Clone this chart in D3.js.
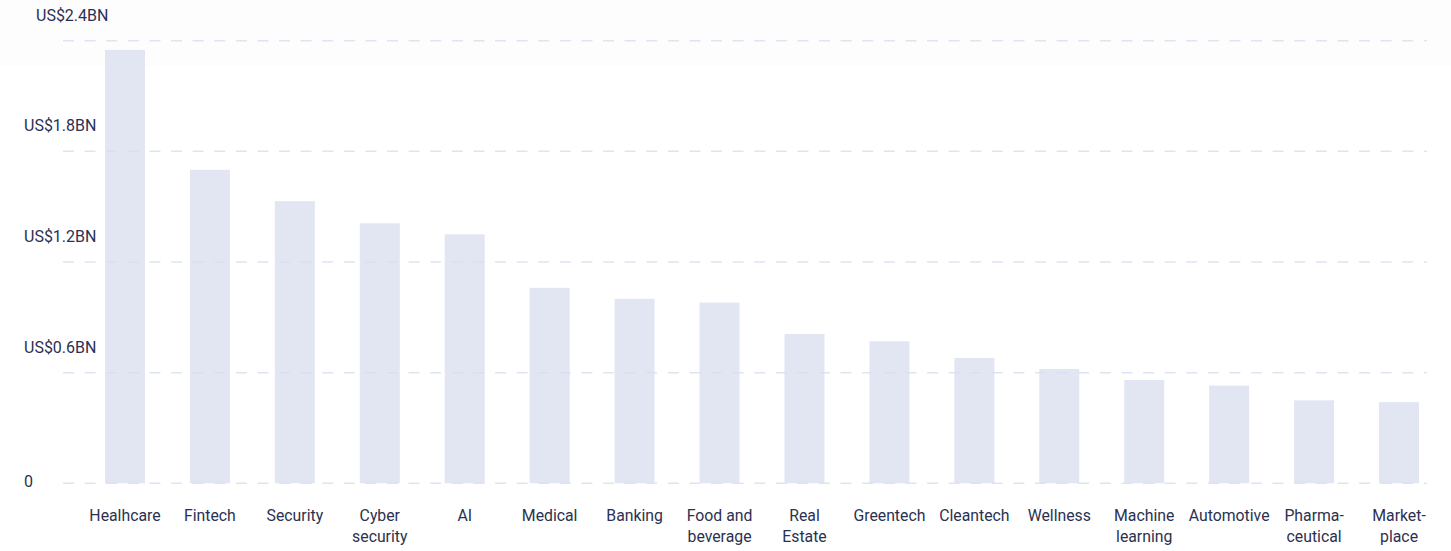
<!DOCTYPE html>
<html>
<head>
<meta charset="utf-8">
<script src="https://cdn.jsdelivr.net/npm/d3@7"></script>
<style>
  body { margin: 0; background: #fff; }
  svg text { font-family: Roboto, "Noto Sans", sans-serif; fill: #2b3151; }
</style>
</head>
<body>
<div id="chart"></div>
<script>
// categories (label lines split by \n) and funding values in US$ billions
var categories = ["Healhcare", "Fintech", "Security", "Cyber\nsecurity", "AI", "Medical", "Banking",
  "Food and\nbeverage", "Real\nEstate", "Greentech", "Cleantech", "Wellness", "Machine\nlearning",
  "Automotive", "Pharma-\nceutical", "Market-\nplace"];
var values = [2.35, 1.70, 1.53, 1.41, 1.35, 1.06, 1.00, 0.98, 0.81, 0.77, 0.68, 0.62, 0.56, 0.53, 0.45, 0.44];
var yTicks = [0, 0.6, 1.2, 1.8, 2.4];
var yTickLabels = ["0", "US$0.6BN", "US$1.2BN", "US$1.8BN", "US$2.4BN"];

var width = 1451, height = 551;
var barWidth = 40;

var svg = d3.select("#chart").append("svg")
  .attr("width", width)
  .attr("height", height);

// faint band at the top
svg.append("rect")
  .attr("x", 0).attr("y", 0)
  .attr("width", width).attr("height", 66)
  .attr("fill", "#fdfdfe");

var x = d3.scaleBand()
  .domain(categories)
  .range([82.5, 1441.5]);

var y = d3.scaleLinear()
  .domain([0, 2.4])
  .range([483.3, 40.7]);

// bars
svg.selectAll("rect.bar")
  .data(values)
  .enter().append("rect")
  .attr("class", "bar")
  .attr("x", function(d, i){ return x(categories[i]) + x.bandwidth()/2 - barWidth/2; })
  .attr("y", function(d){ return y(d); })
  .attr("width", barWidth)
  .attr("height", function(d){ return y(0) - y(d); })
  .attr("fill", "#e1e6f2");

// dashed gridlines
svg.selectAll("line.grid")
  .data(yTicks)
  .enter().append("line")
  .attr("class", "grid")
  .attr("x1", 63).attr("x2", 1427)
  .attr("y1", function(d){ return y(d); })
  .attr("y2", function(d){ return y(d); })
  .attr("stroke", "#d6ddef")
  .attr("stroke-opacity", 0.8)
  .attr("stroke-width", 1.5)
  .attr("stroke-dasharray", "11,10.6");

// y labels sit above their line, the zero label on it
svg.selectAll("text.ylab")
  .data(yTicks)
  .enter().append("text")
  .attr("class", "ylab")
  .attr("x", function(d, i){ return i == yTicks.length - 1 ? 36 : 24; })
  .attr("y", function(d){ return d == 0 ? y(d) + 4 : y(d) - 20; })
  .attr("font-size", "16px")
  .text(function(d, i){ return yTickLabels[i]; });

// category labels
var labels = svg.selectAll("text.xlab")
  .data(categories)
  .enter().append("text")
  .attr("class", "xlab")
  .attr("text-anchor", "middle")
  .attr("font-size", "15.8px")
  .attr("transform", function(d){ return "translate(" + (x(d) + x.bandwidth()/2) + ",521)"; });

labels.selectAll("tspan")
  .data(function(d){ return d.split("\n"); })
  .enter().append("tspan")
  .attr("x", 0)
  .attr("dy", function(d, i){ return i == 0 ? 0 : 21; })
  .text(function(d){ return d; });
</script>
</body>
</html>
